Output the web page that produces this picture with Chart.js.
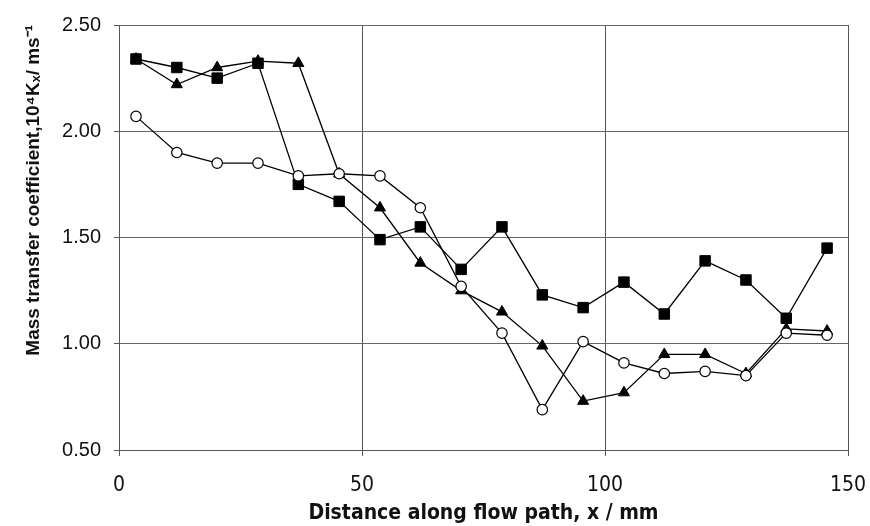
<!DOCTYPE html>
<html>
<head>
<meta charset="utf-8">
<script src="https://cdn.jsdelivr.net/npm/chart.js@4.4.1/dist/chart.umd.min.js"></script>
<style>
  html, body { margin: 0; padding: 0; background: #ffffff; }
  #wrap { width: 870px; height: 526px; position: relative; }
</style>
</head>
<body>
<div id="wrap"><canvas id="c" width="870" height="526"></canvas></div>
<script>
// Distance along flow path (mm)
const distance = [3.5, 11.9, 20.2, 28.6, 36.9, 45.3, 53.7, 62.0, 70.4, 78.8, 87.1, 95.5, 103.9, 112.2, 120.6, 129.0, 137.3, 145.7];
// Mass transfer coefficient series (10^4 Kx / m s^-1)
const squares   = [2.34, 2.30, 2.25, 2.32, 1.75, 1.67, 1.49, 1.55, 1.35, 1.55, 1.23, 1.17, 1.29, 1.14, 1.39, 1.30, 1.12, 1.45];
const triangles = [2.34, 2.22, 2.30, 2.33, 2.32, 1.80, 1.64, 1.38, 1.25, 1.15, 0.99, 0.73, 0.77, 0.95, 0.95, 0.86, 1.07, 1.06];
const circles   = [2.07, 1.90, 1.85, 1.85, 1.79, 1.80, 1.79, 1.64, 1.27, 1.05, 0.69, 1.01, 0.91, 0.86, 0.87, 0.85, 1.05, 1.04];
// Axis ticks
const xTicks = [0, 50, 100, 150];
const yTicks = [0.5, 1.0, 1.5, 2.0, 2.5];

const pts = arr => distance.map((x, i) => ({ x: x, y: arr[i] }));

const ctx = document.getElementById('c').getContext('2d');
new Chart(ctx, {
  type: 'line',
  data: {
    datasets: [
      {
        label: 'circles', data: pts(circles), order: 0,
        borderColor: '#000', borderWidth: 1.3,
        pointStyle: 'circle', pointRadius: 5.2,
        pointBackgroundColor: '#fff', pointBorderColor: '#000', pointBorderWidth: 1.2,
        tension: 0
      },
      {
        label: 'triangles', data: pts(triangles), order: 1,
        borderColor: '#000', borderWidth: 1.3,
        pointStyle: 'triangle', pointRadius: 6.4,
        pointBackgroundColor: '#000', pointBorderColor: '#000', pointBorderWidth: 1,
        tension: 0
      },
      {
        label: 'squares', data: pts(squares), order: 2,
        borderColor: '#000', borderWidth: 1.3,
        pointStyle: 'rect', pointRadius: 7.4,
        pointBackgroundColor: '#000', pointBorderColor: '#000', pointBorderWidth: 1,
        tension: 0
      }
    ]
  },
  options: {
    responsive: false,
    animation: false,
    events: [],
    layout: { padding: { left: 0, right: 22, top: 21, bottom: 0 } },
    plugins: { legend: { display: false }, tooltip: { enabled: false } },
    scales: {
      x: {
        type: 'linear', min: 0, max: 150,
        afterBuildTicks: s => { s.ticks = xTicks.map(v => ({ value: v })); },
        afterFit: s => { s.height = 76; s.paddingLeft = 0; s.paddingRight = 0; },
        grid: { color: '#555', lineWidth: 1, drawTicks: true, tickLength: 6, tickColor: '#555' },
        border: { color: '#555', width: 1 },
        ticks: {
          color: '#111', padding: 17, maxRotation: 0,
          font: { family: '"DejaVu Sans Condensed", "DejaVu Sans", sans-serif', size: 21 },
          callback: v => String(v)
        },
        title: {
          display: true, text: 'Distance along flow path, x / mm', color: '#111',
          font: { family: '"DejaVu Sans Condensed", "DejaVu Sans", sans-serif', size: 21, weight: 'bold' },
          padding: { top: 0, bottom: 0 }
        }
      },
      y: {
        type: 'linear', min: 0.5, max: 2.5,
        afterBuildTicks: s => { s.ticks = yTicks.map(v => ({ value: v })); },
        afterFit: s => { s.width = 119; },
        grid: { color: '#666', lineWidth: 1, drawTicks: true, tickLength: 5, tickColor: '#555' },
        border: { color: '#555', width: 1 },
        ticks: {
          color: '#111', padding: 13,
          font: { family: '"Liberation Sans", Arial, sans-serif', size: 20 },
          callback: v => v.toFixed(2)
        },
        title: {
          display: true, align: 'end',
          text: 'Mass transfer coefficient,10⁴Kₓ/ ms⁻¹', color: '#111',
          font: { family: '"Liberation Sans", Arial, sans-serif', size: 19, weight: 'bold' },
          padding: { top: 22, bottom: 0 }
        }
      }
    }
  }
});
</script>
</body>
</html>
